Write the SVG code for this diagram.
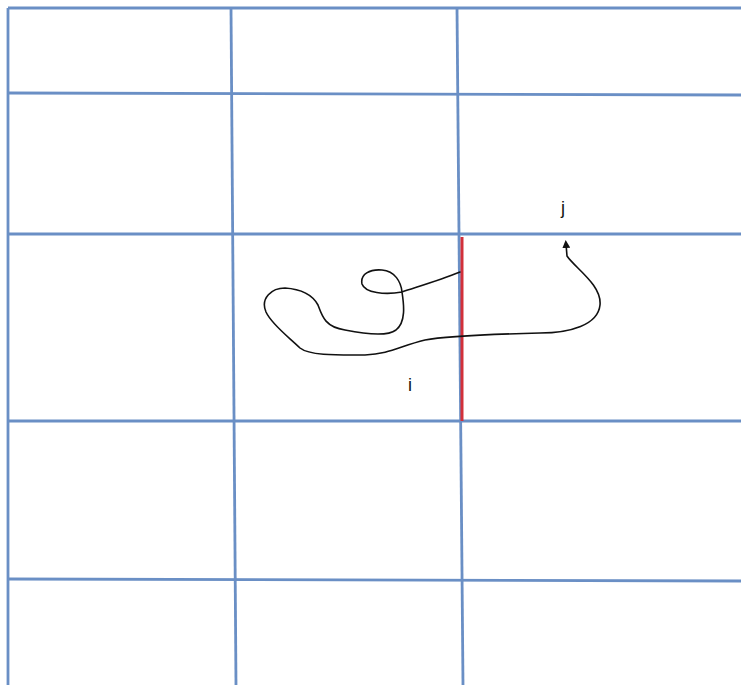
<svg xmlns="http://www.w3.org/2000/svg" width="741" height="685" viewBox="0 0 741 685">
<style>
.grid{stroke:#6a8fc5;stroke-width:2.8;fill:none}
.curve{stroke:#111;stroke-width:1.6;fill:none;stroke-linejoin:round;stroke-linecap:round}
.lbl{font-family:"Liberation Sans",Arial,sans-serif;font-size:18px;fill:#111}
</style>
<defs>
<marker id="ah" markerWidth="8" markerHeight="8" refX="4" refY="4" orient="auto" markerUnits="userSpaceOnUse" viewBox="0 0 8 8">
<path d="M0,0 L8,4 L0,8 Z" fill="#111"/>
</marker>
</defs>
<rect width="741" height="685" fill="#fff"/>
<g id="grid">
<line class="grid" x1="8" y1="8" x2="741" y2="8"/>
<line class="grid" x1="8" y1="93" x2="741" y2="95"/>
<line class="grid" x1="8" y1="234" x2="741" y2="234"/>
<line class="grid" x1="8" y1="421" x2="741" y2="421"/>
<line class="grid" x1="8" y1="579" x2="741" y2="581"/>
<line class="grid" x1="8" y1="8" x2="8" y2="685"/>
<line class="grid" x1="231" y1="8" x2="236" y2="685"/>
<line class="grid" x1="457" y1="8" x2="463" y2="685"/>
</g>
<g id="boundary">
<line x1="462" y1="237" x2="462" y2="421" stroke="#d2303a" stroke-width="3"/>
</g>
<g id="connectors">
<path class="curve" marker-end="url(#ah)" d="M460,272 C440,280 420,286 402,292 C385,295 365,293 362,284 C360,274 370,269 382,270 C395,271 401,282 402,292 C404,305 406,322 396,330 C388,336 370,335 345,330 C325,327 322,316 318,305 C312,294 300,289 285,288 C272,288 260,298 266,312 C272,325 290,338 300,348 C310,356 340,355 365,355 C390,354 400,346 425,340 C445,336 500,334 540,333 C570,333 598,325 600,305 C602,285 575,268 567,256 L566,244"/>
</g>
<g id="label-j"><text class="lbl" x="561" y="214">j</text></g>
<g id="label-i"><text class="lbl" x="408" y="391">i</text></g>
</svg>
